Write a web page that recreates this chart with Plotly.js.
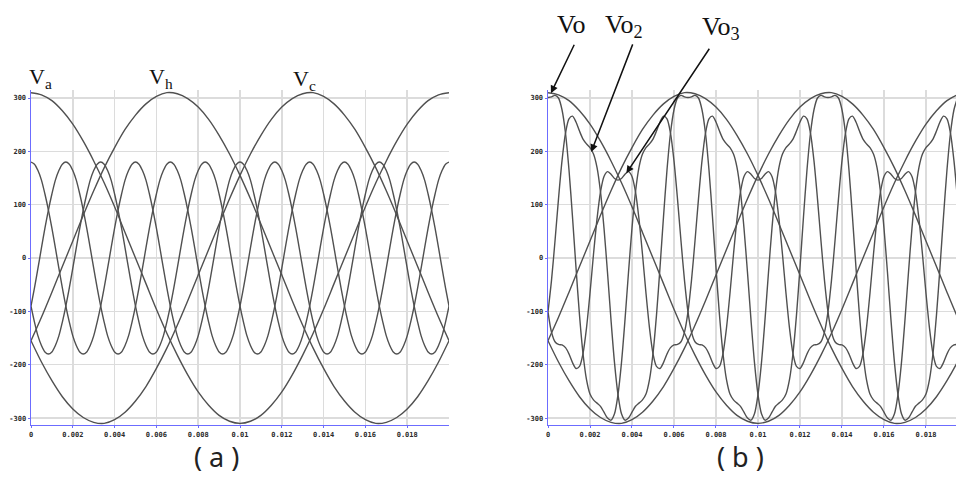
<!DOCTYPE html>
<html>
<head>
<meta charset="utf-8">
<script src="https://cdn.plot.ly/plotly-3.0.1.min.js"></script>
<style>
  html, body { margin: 0; padding: 0; background: #fff; }
  #chart { width: 956px; height: 478px; }
</style>
</head>
<body>
<div id="chart"></div>
<script>
// Sampling: input voltages every 0.5 ms, output voltages every 1/6 ms, both from t = 0 s
const sampleStart = 0;
const inputStep = 0.0005;
const outputStep = 1 / 6000;

// Input phase voltages (V), 50 Hz
const va = [310,306,295,276,251,219,182,141,96,48,0,-48,-96,-141,-182,-219,-251,-276,-295,-306,-310,-306,-295,-276,-251,-219,-182,-141,-96,-48,0,48,96,141,182,219,251,276,295,306,310];
const vb = [-155,-111,-64,-16,32,80,126,169,207,241,268,289,303,310,308,299,283,260,230,195,155,111,64,16,-32,-80,-126,-169,-207,-241,-268,-289,-303,-310,-308,-299,-283,-260,-230,-195,-155];
const vc = [-155,-195,-230,-260,-283,-299,-308,-310,-303,-289,-268,-241,-207,-169,-126,-80,-32,16,64,111,155,195,230,260,283,299,308,310,303,289,268,241,207,169,126,80,32,-16,-64,-111,-155];

// (a) output reference voltages (V), three phases
const refA = [180,176,164,146,120,90,56,19,-19,-56,-90,-120,-146,-164,-176,-180,-176,-164,-146,-120,-90,-56,-19,19,56,90,120,146,164,176,
              180,176,164,146,120,90,56,19,-19,-56,-90,-120,-146,-164,-176,-180,-176,-164,-146,-120,-90,-56,-19,19,56,90,120,146,164,176,
              180,176,164,146,120,90,56,19,-19,-56,-90,-120,-146,-164,-176,-180,-176,-164,-146,-120,-90,-56,-19,19,56,90,120,146,164,176,
              180,176,164,146,120,90,56,19,-19,-56,-90,-120,-146,-164,-176,-180,-176,-164,-146,-120,-90,-56,-19,19,56,90,120,146,164,176,180];
const refB = [-90,-56,-19,19,56,90,120,146,164,176,180,176,164,146,120,90,56,19,-19,-56,-90,-120,-146,-164,-176,-180,-176,-164,-146,-120,
              -90,-56,-19,19,56,90,120,146,164,176,180,176,164,146,120,90,56,19,-19,-56,-90,-120,-146,-164,-176,-180,-176,-164,-146,-120,
              -90,-56,-19,19,56,90,120,146,164,176,180,176,164,146,120,90,56,19,-19,-56,-90,-120,-146,-164,-176,-180,-176,-164,-146,-120,
              -90,-56,-19,19,56,90,120,146,164,176,180,176,164,146,120,90,56,19,-19,-56,-90,-120,-146,-164,-176,-180,-176,-164,-146,-120,-90];
const refC = [-90,-120,-146,-164,-176,-180,-176,-164,-146,-120,-90,-56,-19,19,56,90,120,146,164,176,180,176,164,146,120,90,56,19,-19,-56,
              -90,-120,-146,-164,-176,-180,-176,-164,-146,-120,-90,-56,-19,19,56,90,120,146,164,176,180,176,164,146,120,90,56,19,-19,-56,
              -90,-120,-146,-164,-176,-180,-176,-164,-146,-120,-90,-56,-19,19,56,90,120,146,164,176,180,176,164,146,120,90,56,19,-19,-56,
              -90,-120,-146,-164,-176,-180,-176,-164,-146,-120,-90,-56,-19,19,56,90,120,146,164,176,180,176,164,146,120,90,56,19,-19,-56,-90];

// (b) output voltages Vo, Vo2, Vo3 (V)
const vo1 = [301,302,305,300,278,234,165,77,-18,-107,-179,-228,-255,-266,-272,-278,-289,-300,-304,-292,
             -256,-196,-116,-27,56,124,170,195,207,214,223,238,255,266,261,234,182,111,32,-42,
             -101,-139,-157,-162,-163,-168,-180,-196,-207,-203,-179,-131,-66,7,73,124,153,162,157,149,
             146,149,157,162,153,124,73,7,-66,-131,-179,-203,-207,-196,-180,-168,-163,-162,-157,-139,
             -101,-42,32,111,182,234,261,266,255,238,223,214,207,195,170,124,56,-27,-116,-196,
             -256,-292,-304,-300,-289,-278,-272,-266,-255,-228,-179,-107,-18,77,165,234,278,300];
const vo2 = [-101,-42,32,111,182,234,261,266,255,238,223,214,207,195,170,124,56,-27,-116,-196,
             -256,-292,-304,-300,-289,-278,-272,-266,-255,-228,-179,-107,-18,77,165,234,278,300,305,302,
             301,302,305,300,278,234,165,77,-18,-107,-179,-228,-255,-266,-272,-278,-289,-300,-304,-292,
             -256,-196,-116,-27,56,124,170,195,207,214,223,238,255,266,261,234,182,111,32,-42,
             -101,-139,-157,-162,-163,-168,-180,-196,-207,-203,-179,-131,-66,7,73,124,153,162,157,149,
             146,149,157,162,153,124,73,7,-66,-131,-179,-203,-207,-196,-180,-168,-163,-162];
const vo3 = [-101,-139,-157,-162,-163,-168,-180,-196,-207,-203,-179,-131,-66,7,73,124,153,162,157,149,
             146,149,157,162,153,124,73,7,-66,-131,-179,-203,-207,-196,-180,-168,-163,-162,-157,-139,
             -101,-42,32,111,182,234,261,266,255,238,223,214,207,195,170,124,56,-27,-116,-196,
             -256,-292,-304,-300,-289,-278,-272,-266,-255,-228,-179,-107,-18,77,165,234,278,300,305,302,
             301,302,305,300,278,234,165,77,-18,-107,-179,-228,-255,-266,-272,-278,-289,-300,-304,-292,
             -256,-196,-116,-27,56,124,170,195,207,214,223,238,255,266,261,234,182,111];

// Axis ticks
const timeTicks = [0,0.002,0.004,0.006,0.008,0.01,0.012,0.014,0.016,0.018];
const timeTickText = ['0','0.002','0.004','0.006','0.008','0.01','0.012','0.014','0.016','0.018'];
const voltTicks = [-300,-200,-100,0,100,200,300];
const voltTickText = ['-300','-200','-100','0','100','200','300'];

const curveStyle = { color: '#505050', width: 1.4, shape: 'spline', smoothing: 0.8 };

function wave(values, step, xa, ya) {
  return {
    type: 'scatter', mode: 'lines',
    x0: sampleStart, dx: step, y: values,
    xaxis: xa, yaxis: ya,
    line: curveStyle, hoverinfo: 'skip', showlegend: false
  };
}

const traces = [
  wave(va, inputStep, 'x', 'y'), wave(vb, inputStep, 'x', 'y'), wave(vc, inputStep, 'x', 'y'),
  wave(refA, outputStep, 'x', 'y'), wave(refB, outputStep, 'x', 'y'), wave(refC, outputStep, 'x', 'y'),
  wave(va, inputStep, 'x2', 'y2'), wave(vb, inputStep, 'x2', 'y2'), wave(vc, inputStep, 'x2', 'y2'),
  wave(vo1, outputStep, 'x2', 'y2'), wave(vo2, outputStep, 'x2', 'y2'), wave(vo3, outputStep, 'x2', 'y2')
];

const axisBlue = '#6c6cff';
const tickFont = { family: 'DejaVu Sans Mono', size: 7, color: '#2a2a2a', weight: 'bold' };
function timeAxis(domain, range, anchor) {
  return {
    domain: domain, range: range, fixedrange: true, anchor: anchor,
    showgrid: true, gridcolor: '#dcdcdc', gridwidth: 1.5, zeroline: false,
    showline: true, linecolor: axisBlue, linewidth: 1.5,
    ticks: 'outside', ticklen: 2, tickcolor: axisBlue, tickwidth: 1,
    tickvals: timeTicks, ticktext: timeTickText, tickfont: tickFont
  };
}
function voltAxis(anchor) {
  return {
    domain: [0.1109, 0.8117], range: [-313, 315], fixedrange: true, anchor: anchor,
    showgrid: true, gridcolor: '#dcdcdc', gridwidth: 1.5, zeroline: false,
    showline: true, linecolor: axisBlue, linewidth: 1.5,
    ticks: 'outside', ticklen: 2, tickcolor: axisBlue, tickwidth: 1,
    tickvals: voltTicks, ticktext: voltTickText, tickfont: tickFont
  };
}

const labelFontA = { family: 'Liberation Serif', size: 22, color: '#111' };
const labelFontB = { family: 'Liberation Serif', size: 26, color: '#111' };
const capFont = { family: 'Noto Sans', size: 27, color: '#222' };

function px(x) { return x / 956; }
function py(y) { return 1 - y / 478; }
function label(x, y, text, font) {
  return { xref: 'paper', yref: 'paper', x: px(x), y: py(y), xanchor: 'left', yanchor: 'top',
           text: text, showarrow: false, font: font };
}
function caption(x, text) {
  return { xref: 'paper', yref: 'paper', x: px(x), y: py(476), xanchor: 'center', yanchor: 'bottom',
           text: text, showarrow: false, font: capFont, borderpad: 0 };
}
function pointer(t, v, ax, ay) {
  return { xref: 'x2', yref: 'y2', x: t, y: v, ax: ax, ay: ay, text: '', showarrow: true,
           arrowhead: 2, arrowsize: 1, arrowwidth: 1.5, arrowcolor: '#111' };
}

const annotations = [
  label(27, 62, 'V<sub>a</sub>', labelFontA),
  label(147, 62, 'V<sub>h</sub>', labelFontA),
  label(291, 64, 'V<sub>c</sub>', labelFontA),
  label(555, 8, 'Vo', labelFontB),
  label(603, 8, 'Vo<sub>2</sub>', labelFontB),
  label(700, 10, 'Vo<sub>3</sub>', labelFontB),
  caption(216, '( a )'),
  caption(740, '( b )'),
  pointer(0.00014, 309, 24, -50),
  pointer(0.00206, 199, 42, -109),
  pointer(0.00373, 159, 84, -126)
];

const layout = {
  width: 956, height: 478,
  margin: { l: 0, r: 0, t: 0, b: 0 },
  paper_bgcolor: '#ffffff', plot_bgcolor: '#ffffff',
  showlegend: false,
  xaxis: timeAxis([31/956, 449/956], [0, 0.02], 'y'), yaxis: voltAxis('x'),
  xaxis2: timeAxis([548/956, 1], [0, 0.01943], 'y2'), yaxis2: voltAxis('x2'),
  annotations: annotations
};

Plotly.newPlot('chart', traces, layout, { staticPlot: true, displayModeBar: false });
</script>
</body>
</html>
